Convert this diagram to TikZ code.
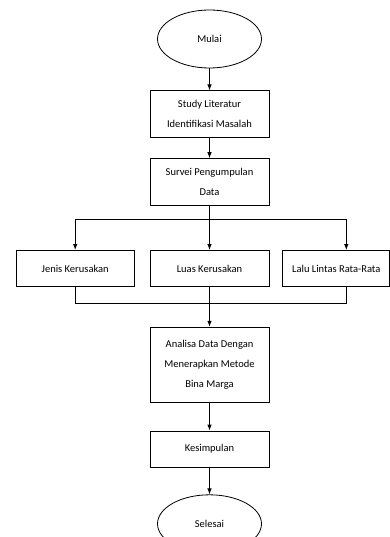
\documentclass[tikz,border=0pt]{standalone}
\usepackage{fontspec}
\setmainfont{Carlito}
\usepackage{tikz}
\usetikzlibrary{arrows.meta,positioning,shapes.geometric,calc}

\begin{document}
\begin{tikzpicture}[
    x=1pt,y=1pt,
    line width=0.8pt,
    box/.style={draw,align=center,minimum width=119pt,minimum height=36pt,
        font=\fontsize{10.5}{20}\selectfont,inner sep=2pt},
    term/.style={draw,ellipse,minimum width=104pt,minimum height=58pt,
        font=\fontsize{10.5}{20}\selectfont},
    arrow/.style={-{Latex[length=6pt,width=4.5pt]},draw=black}
]
\useasboundingbox (0,0) rectangle (390,-537);
\node[term] (mulai) at (209.5,-39) {Mulai};
\node[box,minimum height=47pt,below=22pt of mulai] (study)
    {Study Literatur\\Identifikasi Masalah};
\node[box,minimum height=47pt,below=20pt of study] (survei)
    {Survei Pengumpulan\\Data};
\node[box,below=44pt of survei] (luas) {Luas Kerusakan};
\node[box,minimum width=118pt,left=15pt of luas] (jenis) {Jenis Kerusakan};
\node[box,minimum width=107pt,right=13pt of luas] (lalu) {Lalu Lintas Rata-Rata};
\node[box,minimum height=75pt,below=40pt of luas] (analisa)
    {Analisa Data Dengan\\Menerapkan Metode\\Bina Marga};
\node[box,below=28pt of analisa] (simpul) {Kesimpulan};
\node[term,below=27pt of simpul] (selesai) {Selesai};
% split and merge points
\coordinate (split) at ($(survei.south)+(0,-13)$);
\coordinate (merge) at ($(luas.south)+(0,-16.7)$);
\coordinate (laluin) at ($(lalu.north)+(10,0)$);
\coordinate (laluout) at ($(lalu.south)+(10,0)$);
\draw[arrow] (mulai) -- (study);
\draw[arrow] (study) -- (survei);
\draw (survei) -- (split);
\draw (jenis.north |- split) -- (laluin |- split);
\draw[arrow] (jenis.north |- split) -- (jenis);
\draw[arrow] (split) -- (luas);
\draw[arrow] (laluin |- split) -- (laluin);
\draw (jenis) -- (jenis.south |- merge) -- (laluout |- merge) -- (laluout);
\draw[arrow] (luas) -- (analisa);
\draw[arrow] (analisa) -- (simpul);
\draw[arrow] (simpul) -- (selesai);
\end{tikzpicture}
\end{document}
